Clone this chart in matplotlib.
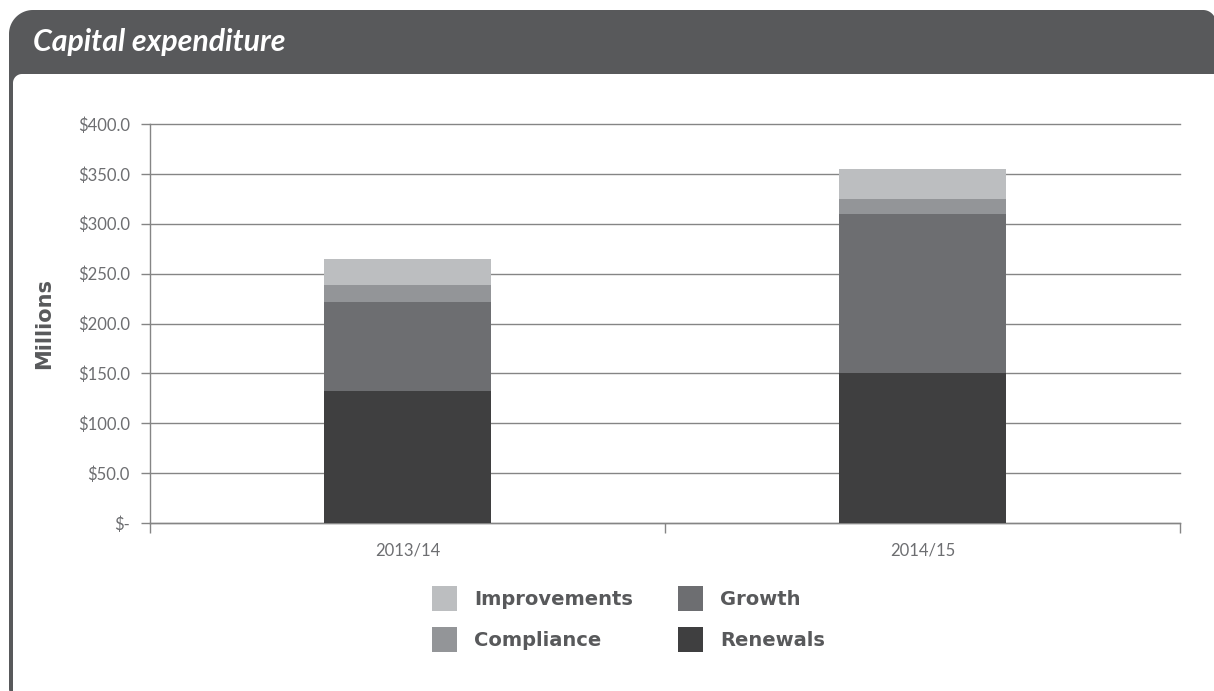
import numpy as np
import matplotlib
matplotlib.use("Agg")
import matplotlib.pyplot as plt
from matplotlib.patches import Polygon

# Capital expenditure by category, $ millions
years = ["2013/14", "2014/15"]
renewals = [132.4, 150.5]
growth = [89.2, 159.5]
compliance = [17.0, 15.0]
improvements = [26.0, 30.0]
y_ticks = [0, 50, 100, 150, 200, 250, 300, 350, 400]
y_tick_labels = ["$-", "$50.0", "$100.0", "$150.0", "$200.0", "$250.0",
                 "$300.0", "$350.0", "$400.0"]

colors = {
    "Renewals": "#3f3f40",
    "Growth": "#6d6e71",
    "Compliance": "#939598",
    "Improvements": "#bcbec0",
}
frame_color = "#58595b"
text_color = "#6d6e71"
grid_color = "#858585"

W, H = 1214, 691
fig = plt.figure(figsize=(W / 100, H / 100), dpi=100)


def rounded_box(x0, y0, x1, y1, r_tl, r_tr, r_br, r_bl):
    # y runs downward here (pixel-style coordinates)
    def arc(cx, cy, r, a0, a1):
        t = np.radians(np.linspace(a0, a1, 24))
        return np.column_stack([cx + r * np.cos(t), cy + r * np.sin(t)])
    pts = [arc(x0 + r_tl, y0 + r_tl, r_tl, 180, 270),
           arc(x1 - r_tr, y0 + r_tr, r_tr, 270, 360),
           arc(x1 - r_br, y1 - r_br, r_br, 0, 90),
           arc(x0 + r_bl, y1 - r_bl, r_bl, 90, 180)]
    return np.vstack(pts)


# panel background: dark header with a thin left border, white body
bg = fig.add_axes([0, 0, 1, 1], zorder=-1)
bg.set_xlim(0, W)
bg.set_ylim(H, 0)
bg.axis("off")
bg.add_patch(Polygon(rounded_box(9, 10, 1216, 695, 24, 13, 0, 6),
                     closed=True, facecolor=frame_color, edgecolor="none"))
bg.add_patch(Polygon(rounded_box(13, 74, 1240, 720, 9, 0, 0, 0),
                     closed=True, facecolor="white", edgecolor="none"))
bg.text(33, 51, "Capital expenditure", color="white", fontsize=21.8,
        fontfamily="Lato", fontweight="bold", fontstyle="italic",
        va="baseline", ha="left")

# plot area in pixels: x 150..1180, y 124..523
left, right, top, bottom = 150, 1180, 124, 523
ax = fig.add_axes([left / W, 1 - bottom / H, (right - left) / W, (bottom - top) / H])
ax.patch.set_alpha(0)

x = np.arange(len(years))
width = 0.323
base = np.zeros(len(years))
series = [("Renewals", renewals), ("Growth", growth),
          ("Compliance", compliance), ("Improvements", improvements)]
bars = {}
for name, vals in series:
    bars[name] = ax.bar(x, vals, width, bottom=base, color=colors[name],
                        edgecolor="none", zorder=3, label=name)
    base = base + np.array(vals)

ax.set_xlim(-0.5, len(years) - 0.5)
ax.set_ylim(0, 400)
ax.set_yticks(y_ticks)
ax.set_yticklabels(y_tick_labels)

# category boundaries carry the ticks, labels sit at the centres
ax.set_xticks(np.arange(-0.5, len(years)))
ax.set_xticklabels([])
ax.set_xticks(x, minor=True)
ax.set_xticklabels(years, minor=True)
ax.tick_params(axis="x", which="major", direction="out", length=7.3,
               width=1.0, color=grid_color)
ax.tick_params(axis="x", which="minor", length=0, pad=14,
               labelsize=12, labelcolor=text_color)
ax.tick_params(axis="y", direction="out", length=6.5, width=1.0,
               color=grid_color, pad=8, labelsize=12, labelcolor=text_color)
for lab in ax.get_xticklabels(minor=True) + ax.get_yticklabels():
    lab.set_fontfamily("Lato")

ax.yaxis.grid(True, color=grid_color, linewidth=1.0, zorder=0)
ax.set_axisbelow(True)
for line in ax.get_ygridlines():
    line.set_clip_on(False)
for side in ["top", "right"]:
    ax.spines[side].set_visible(False)
for side in ["left", "bottom"]:
    ax.spines[side].set_color(grid_color)
    ax.spines[side].set_linewidth(1.0)

fig.text(44 / W, 1 - 324 / H, "Millions", rotation=90, ha="center",
         va="center", fontsize=15, fontweight="bold", color=frame_color)

handles = [bars["Improvements"], bars["Compliance"],
           bars["Growth"], bars["Renewals"]]
labels = ["Improvements", "Compliance", "Growth", "Renewals"]
fig.legend(handles, labels, ncol=2, frameon=False,
           loc="upper left", bbox_to_anchor=(432 / W, 1 - 586 / H),
           borderpad=0, borderaxespad=0,
           handlelength=1.29, handleheight=1.61, handletextpad=0.88,
           columnspacing=2.3, labelspacing=0.8,
           prop={"weight": "bold", "size": 14}, labelcolor=frame_color)

fig.savefig("out.png", dpi=100)
